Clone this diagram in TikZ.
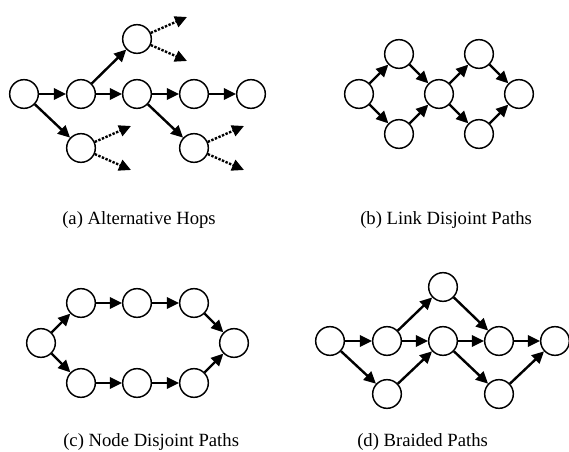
\documentclass[tikz,border=0pt]{standalone}
\usepackage{fontspec}
\setmainfont{Liberation Serif}
\usetikzlibrary{arrows.meta}

\tikzset{
  vertex/.style={circle, draw, line width=1.1pt, minimum size=21.5pt, inner sep=0pt},
  hop/.style={-{Triangle[length=9pt,width=8.5pt]}, line width=1.8pt},
  spare/.style={hop, dash pattern=on 1.8pt off 1.1pt},
  caption/.style={font=\fontsize{14}{17}\selectfont, anchor=base west, inner sep=0pt}
}

\begin{document}
\begin{tikzpicture}[x=0.75pt,y=-0.75pt]
  \useasboundingbox (0,0) rectangle (569,452);

  % (a) alternative hops
  \foreach \n/\x/\y in {a0/24/94,a1/81/94,a2/137/94,a3/194/94,a4/251/94,at/137/39,al/81/148,ar/194/148}
    \node[vertex] (\n) at (\x,\y) {};
  \foreach \s/\t in {a0/a1,a1/a2,a2/a3,a3/a4,a1/at,a0/al,a2/ar}
    \draw[hop] (\s) -- (\t);
  \foreach \n in {at,al,ar} {
    \path (\n) ++(50,-22) coordinate (\n-up) (\n) ++(50,22) coordinate (\n-dn);
    \draw[spare] (\n) -- (\n-up);
    \draw[spare] (\n) -- (\n-dn);
  }
  \node[caption] (capa) at (62,225) {(a) Alternative Hops};

  % (b) link disjoint paths
  \foreach \n/\x/\y in {b0/359/94,bt1/399/54,bb1/399/134,bm/439/94,bt2/479/54,bb2/479/134,b4/519/94}
    \node[vertex] (\n) at (\x,\y) {};
  \foreach \s/\t in {b0/bt1,b0/bb1,bt1/bm,bb1/bm,bm/bt2,bm/bb2,bt2/b4,bb2/b4}
    \draw[hop] (\s) -- (\t);
  \node[caption] (capb) at (360,225) {(b) Link Disjoint Paths};

  % (c) node disjoint paths
  \foreach \n/\x/\y in {c0/41/343,ct1/81/303,ct2/137/303,ct3/194/303,cb1/81/383,cb2/137/383,cb3/194/383,c4/234/343}
    \node[vertex] (\n) at (\x,\y) {};
  \foreach \s/\t in {c0/ct1,ct1/ct2,ct2/ct3,ct3/c4,c0/cb1,cb1/cb2,cb2/cb3,cb3/c4}
    \draw[hop] (\s) -- (\t);
  \node[caption] (capc) at (63,447) {(c) Node Disjoint Paths};

  % (d) braided paths
  \foreach \n/\x/\y in {d0/330/341,d1/387/341,db1/387/394,dt/443/287,dm/443/341,d3/499/341,db2/499/394,d4/555/341}
    \node[vertex] (\n) at (\x,\y) {};
  \foreach \s/\t in {d0/d1,d0/db1,d1/dt,d1/dm,db1/dm,dt/d3,dm/d3,dm/db2,d3/d4,db2/d4}
    \draw[hop] (\s) -- (\t);
  \node[caption] (capd) at (357,447) {(d) Braided Paths};
\end{tikzpicture}
\end{document}
